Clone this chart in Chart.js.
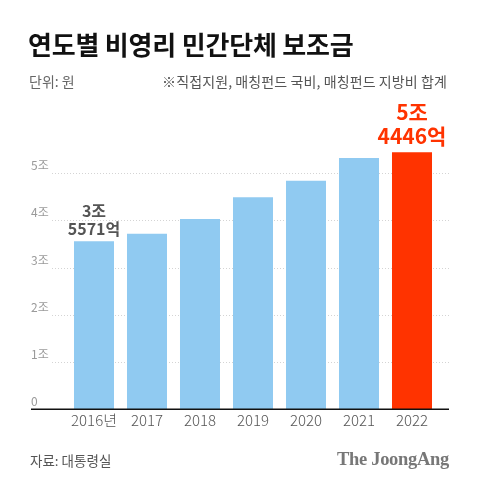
<!DOCTYPE html>
<html>
<head>
<meta charset="utf-8">
<script src="https://cdn.jsdelivr.net/npm/chart.js@4"></script>
<style>
    html, body { margin: 0; padding: 0; background: #fff; }
    #wrap { position: relative; width: 480px; height: 489px; overflow: hidden; font-family: "Noto Sans CJK KR", "Noto Sans", sans-serif; }
    #wrap canvas { position: absolute; left: 0; top: 0; }
    .txt { position: absolute; white-space: nowrap; line-height: 1; }
    #title { left: 28px; top: 31px; font-size: 26px; font-weight: 700; color: #111; letter-spacing: -0.2px; }
    #unit { left: 29px; top: 74px; font-size: 14px; color: #666; }
    #note { right: 33px; top: 74px; font-size: 14px; color: #555; letter-spacing: 0.1px; }
    #source { left: 30px; top: 454px; font-size: 13.5px; color: #555; }
    #brand { right: 31px; top: 450px; font-size: 18.5px; font-weight: 700; color: #777; font-family: "Liberation Serif", "DejaVu Serif", serif; letter-spacing: -0.3px; }
</style>
</head>
<body>
<div id="wrap">
    <canvas id="chart" width="480" height="489"></canvas>
    <div class="txt" id="title">연도별 비영리 민간단체 보조금</div>
    <div class="txt" id="unit">단위: 원</div>
    <div class="txt" id="note">※직접지원, 매칭펀드 국비, 매칭펀드 지방비 합계</div>
    <div class="txt" id="source">자료: 대통령실</div>
    <div class="txt" id="brand">The JoongAng</div>
</div>
<script>
// 연도별 보조금 (단위: 조 원)
const years = ['2016년', '2017', '2018', '2019', '2020', '2021', '2022'];
const amounts = [3.5571, 3.72, 4.03, 4.49, 4.84, 5.32, 5.4446];
const yTicks = [0, 1, 2, 3, 4, 5];
const yTickLabels = ['0', '1조', '2조', '3조', '4조', '5조'];
const barLabels = { 0: ['3조', '5571억'], 6: ['5조', '4446억'] };

const blue = '#90caf1';
const red = '#ff3300';

// 격자선, 축선, y축 글자
const gridPlugin = {
    id: 'grid',
    beforeDatasetsDraw(chart) {
        const ctx = chart.ctx;
        const y = chart.scales.y;
        ctx.save();
        yTicks.forEach((v, i) => {
            const py = Math.round(y.getPixelForValue(v)) + 0.5;
            if (v > 0) {
                ctx.strokeStyle = '#d4d4d4';
                ctx.lineWidth = 1;
                ctx.setLineDash([1, 2]);
                ctx.beginPath();
                ctx.moveTo(52, py);
                ctx.lineTo(449, py);
                ctx.stroke();
            }
            ctx.setLineDash([]);
            ctx.fillStyle = '#9a9a9a';
            ctx.font = '12px "Noto Sans CJK KR", sans-serif';
            ctx.textAlign = 'left';
            ctx.textBaseline = 'alphabetic';
            ctx.fillText(yTickLabels[i], 31, py - 4);
        });
        ctx.restore();
    },
    afterDatasetsDraw(chart) {
        const ctx = chart.ctx;
        const y = chart.scales.y;
        const py = y.getPixelForValue(0);
        ctx.save();
        ctx.strokeStyle = '#111';
        ctx.lineWidth = 1.5;
        ctx.beginPath();
        ctx.moveTo(31, py);
        ctx.lineTo(449, py);
        ctx.stroke();

        // 막대 위 값 표시
        const meta = chart.getDatasetMeta(0);
        Object.keys(barLabels).forEach(k => {
            const i = +k;
            const bar = meta.data[i];
            const lines = barLabels[k];
            const isLast = i === amounts.length - 1;
            ctx.fillStyle = isLast ? red : '#555';
            ctx.font = (isLast ? 'bold 21px' : 'bold 16px') + ' "Noto Sans CJK KR", sans-serif';
            ctx.textAlign = 'center';
            ctx.textBaseline = 'middle';
            const gap = isLast ? 24 : 18;
            const first = isLast ? 16 : 12.5;
            ctx.fillText(lines[1], bar.x, bar.y - first);
            ctx.fillText(lines[0], bar.x, bar.y - first - gap);
        });
        ctx.restore();
    }
};

new Chart(document.getElementById('chart').getContext('2d'), {
    type: 'bar',
    data: {
        labels: years,
        datasets: [{
            data: amounts,
            backgroundColor: amounts.map((v, i) => i === amounts.length - 1 ? red : blue),
            borderWidth: 0,
            barPercentage: 0.755,
            categoryPercentage: 1
        }]
    },
    options: {
        responsive: false,
        animation: false,
        layout: { padding: { left: 67.5, right: 41.5, top: 126, bottom: 49.7 } },
        plugins: { legend: { display: false }, tooltip: { enabled: false } },
        scales: {
            y: { display: false, min: 0, max: 6 },
            x: {
                grid: { display: false, drawTicks: false },
                border: { display: false },
                ticks: { color: '#555', font: { family: '"Noto Sans CJK KR", "Noto Sans", sans-serif', size: 15, weight: 300 }, padding: 2, maxRotation: 0 },
                afterFit(scale) { scale.height = 30; }
            }
        }
    },
    plugins: [gridPlugin]
});
</script>
</body>
</html>
